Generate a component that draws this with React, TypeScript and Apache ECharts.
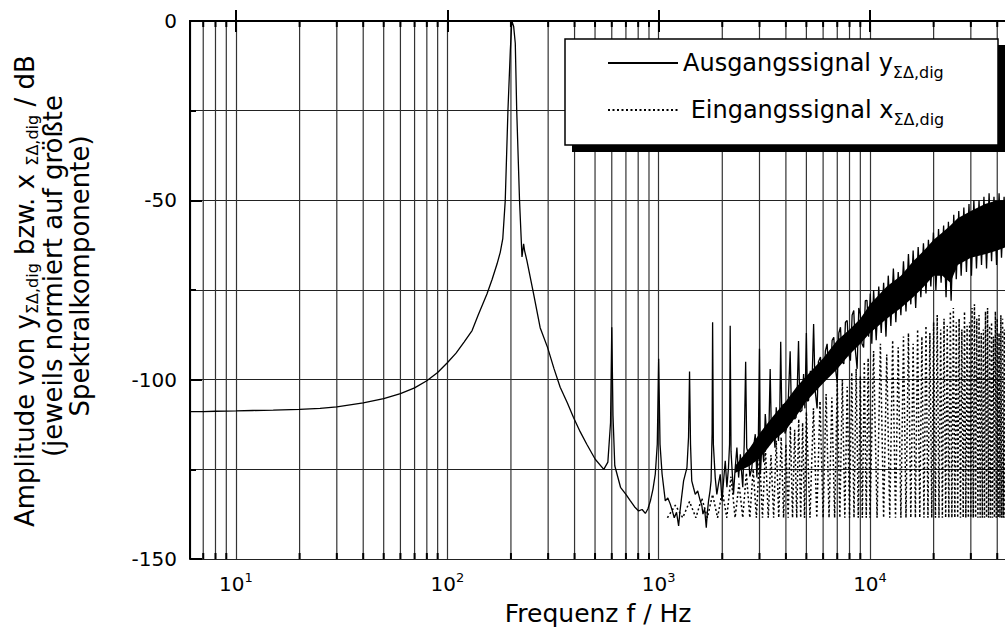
import { useEffect, useRef } from 'react';
import * as echarts from 'echarts';

const FONT = 'DejaVu Sans';
const X_MIN = 6.06;
const X_MAX = 44100;
const Y_MIN = -150;
const Y_MAX = 0;

// Output signal: smooth low-frequency part, main peak and harmonics (Hz, dB)
const outLowFreq = [6.06, 7, 8, 10, 12, 15, 20, 25, 30, 40, 50, 60, 70, 80, 90, 100, 110, 120, 131, 140, 154, 163, 172, 178, 183, 188, 193.6, 198.7, 202, 206, 209.7, 213, 219.6, 225.6, 229.6, 232, 238, 256, 275, 298, 320, 342, 370, 395, 425, 457, 501, 550, 575, 592, 600, 608, 620, 660, 700, 735, 770, 804, 835, 865, 890, 914, 940, 964, 985, 1000, 1015, 1038, 1075, 1105, 1135, 1160, 1185, 1215, 1243, 1260, 1278, 1312, 1361, 1385, 1400, 1415, 1434, 1460, 1490, 1530, 1573, 1600, 1620, 1650, 1680, 1700, 1722, 1750, 1770, 1790, 1800];
const outLowDb = [-108.9, -108.9, -108.8, -108.7, -108.6, -108.5, -108.3, -108.0, -107.6, -106.5, -105.3, -103.9, -102.3, -100.3, -98.0, -95.3, -92.6, -89.5, -86.3, -82.0, -76.1, -72.0, -67.7, -64.5, -60.7, -50.0, -24.9, -8.1, 0, -1.5, -6.2, -24.9, -50, -65.8, -62.1, -64, -66.8, -76.1, -85.5, -91, -97, -102.1, -106.5, -110.5, -114.5, -118, -122.2, -125, -123, -112, -85.4, -110, -124, -130, -132, -133.8, -135.5, -136.6, -136.2, -137.3, -136, -133.8, -130.5, -126.3, -118, -94.2, -118, -126.3, -133.8, -133, -134.7, -136.5, -138.5, -137, -140.8, -137, -133.8, -128.2, -124.5, -116, -97.7, -118, -128.2, -130, -132, -131, -133.8, -135, -137.5, -136, -141.3, -137, -133.8, -131, -128.2, -115, -84];

// Output signal: noise region (Hz, dB)
const outNoiseFreq = [1815, 1852, 1885, 1920, 1956, 1994, 2030, 2066, 2103, 2140, 2165, 2180, 2200, 2260, 2300, 2345, 2390, 2435, 2470, 2500, 2540, 2580, 2610, 2660, 2700, 2760, 2810, 2865, 2915, 2960, 3000, 3030, 3084, 3140, 3195, 3275, 3330, 3370, 3420, 3495, 3550, 3600, 3690, 3740, 3780, 3830, 3890, 3960, 4040, 4110, 4190, 4260, 4340, 4400, 4470, 4530, 4590, 4660, 4760, 4850, 4920, 5000, 5060, 5120, 5220, 5300, 5410, 5500, 5620, 5700, 5830, 5940, 6050, 6150, 6270, 6380, 6500, 6620, 6740, 6870, 7000, 7120, 7250, 7380, 7520, 7650, 7800, 7940, 8080, 8230, 8380, 8530, 8690, 8850, 9000, 9160, 9330, 9500, 9680, 9850, 10030, 10200, 10400, 10700, 11000, 11300, 11600, 11900, 12200, 12550, 12900, 13250, 13600, 14000, 14400, 14800, 15200, 15600, 16000, 16450, 16900, 17400, 17900, 18400, 18900, 19400, 19950, 20500, 21100, 21700, 22300, 22900, 23500, 24200, 24900, 25600, 26300, 27000, 27800, 28600, 29400, 30200, 31000, 31900, 32800, 33700, 34600, 35600, 36600, 37600, 38600, 39700, 40800, 41900, 43100, 44100];
const outNoiseDb = [-118, -127.3, -132, -129, -126.4, -133.8, -128, -122.6, -130, -124.5, -118, -85, -120, -132, -125, -118.9, -127.3, -120.8, -126, -130, -118, -95, -119, -120.8, -127, -124.5, -119, -115.2, -127.3, -118, -91.4, -126.4, -117.1, -123, -109.6, -118.9, -112, -97, -117, -113.3, -119, -107.7, -117.1, -110, -89.4, -112, -106.8, -115, -113.3, -105, -92.1, -112, -104, -111, -110.5, -102, -89.2, -109, -108.6, -98.4, -108, -87, -106, -105.8, -97.5, -104, -84.5, -103, -108, -95, -93.7, -101, -100.3, -92, -90, -99, -98.4, -89, -88.2, -97, -101, -87, -85.4, -95, -95.6, -84, -83.5, -93, -94.7, -82, -80.7, -92, -97, -80, -81.7, -90, -91, -78, -77.9, -88, -76, -90, -75, -89, -74, -87, -73, -88, -71, -85, -69, -84, -70, -82, -67, -81, -65, -79, -64, -80, -63, -77, -62, -76, -61, -74, -59, -75, -58, -73, -57, -77, -56, -78, -54, -72, -53, -71, -52, -70, -51, -71, -50, -69, -50, -68, -49, -69, -48, -67, -49, -68, -48, -66, -49, -62];

// Dense core of the output noise band (Hz, upper dB, lower dB)
const coreFreq = [2300, 2700, 3000, 3500, 4000, 4500, 5000, 6000, 7000, 8000, 9000, 10000, 12000, 14000, 16000, 18000, 20000, 22000, 24000, 26000, 30000, 35000, 40000, 44100];
const coreTop = [-124, -119, -115, -110, -106, -102, -99, -94, -89, -86, -83, -79, -74, -71, -67, -64, -61, -59, -57, -55, -53, -51, -50, -50];
const coreBottom = [-126, -124, -122, -117, -114, -110, -106, -101, -97, -93, -90, -87, -83, -80, -77, -74, -71, -71, -73, -68, -66, -65, -64, -63];

// Input signal: spectral lines above the -138.5 dB floor (Hz, dB)
const inFreq = [1100, 1200, 1300, 1400, 1500, 1600, 1700, 1800, 1900, 2000, 2100, 2200, 2300, 2400, 2500, 2600, 2700, 2800, 2900, 3000, 3100, 3200, 3300, 3400, 3500, 3600, 3700, 3800, 3900, 4000, 4100, 4200, 4300, 4400, 4500, 4600, 4700, 4800, 4900, 5000, 5200, 5400, 5600, 5800, 6000, 6200, 6400, 6600, 6800, 7000, 7200, 7400, 7600, 7800, 8000, 8200, 8400, 8600, 8800, 9000, 9200, 9400, 9600, 9800, 10000, 10400, 10800, 11200, 11600, 12000, 12400, 12800, 13200, 13600, 14000, 14400, 14800, 15200, 15600, 16000, 16400, 16800, 17200, 17600, 18000, 18400, 18800, 19200, 19600, 20000, 20400, 20800, 21200, 21600, 22000, 22400, 22800, 23200, 23600, 24000, 24400, 24800, 25200, 25600, 26000, 26400, 26800, 27200, 27600, 28000, 28400, 28800, 29200, 29600, 30000, 30400, 30800, 31200, 31600, 32000, 32400, 32800, 33200, 33600, 34000, 34400, 34800, 35200, 35600, 36000, 36400, 36800, 37200, 37600, 38000, 38400, 38800, 39200, 39600, 40000, 40400, 40800, 41200, 41600, 42000, 42400, 42800, 43200, 43600, 44000];
const inDb = [-138.5, -135, -138.5, -134, -138.5, -133, -138.5, -132, -138.5, -131, -138.5, -127, -138.5, -129, -138.5, -126, -138.5, -125, -138.5, -121, -138.5, -119, -138.5, -121, -138.5, -117, -138.5, -116, -138.5, -118, -138.5, -113, -138.5, -114, -138.5, -111, -138.5, -112, -138.5, -109, -138.5, -108, -138.5, -106, -138.5, -104, -138.5, -105, -138.5, -101, -138.5, -100, -138.5, -102, -138.5, -98, -138.5, -97, -138.5, -99, -138.5, -95, -138.5, -94, -138.5, -92, -138.5, -90, -138.5, -93, -138.5, -89, -138.5, -91, -138.5, -88, -138.5, -87, -138.5, -90, -138.5, -86, -138.5, -88, -138.5, -85, -138.5, -87, -138.5, -84, -138.5, -82, -138.5, -86, -138.5, -83, -138.5, -85, -138.5, -81, -138.5, -80, -138.5, -84, -138.5, -83, -138.5, -86, -138.5, -81, -138.5, -85, -138.5, -84, -138.5, -80, -138.5, -79, -138.5, -83, -138.5, -82, -138.5, -87, -138.5, -86, -138.5, -81, -138.5, -80, -138.5, -85, -138.5, -84, -138.5, -88, -138.5, -81, -138.5, -83, -138.5, -87, -138.5, -82, -138.5, -83, -138.5, -86, -138.5, -85];

// Minor (2..9 x decade) grid lines
const minorGridFreq = [7, 8, 9, 20, 30, 40, 50, 60, 70, 80, 90, 200, 300, 400, 500, 600, 700, 800, 900, 2000, 3000, 4000, 5000, 6000, 7000, 8000, 9000, 20000, 30000, 40000];

const seriesNames = ['Ausgangssignal', 'Eingangssignal'];
const yTitleLines = ['Amplitude von y{sub|ΣΔ,dig} bzw. x {sub|ΣΔ,dig} / dB', '(jeweils normiert auf größte', 'Spektralkomponente)'];

export default function App() {
  const ref = useRef<HTMLDivElement>(null);

  useEffect(() => {
    if (!ref.current) return;
    const chart = echarts.init(ref.current, null, { renderer: 'svg' });

    const outData = outLowFreq.map((f, i) => [f, outLowDb[i]]).concat(outNoiseFreq.map((f, i) => [f, outNoiseDb[i]]));
    const inData = inFreq.map((f, i) => [f, inDb[i]]);

    const isPow10 = (v: number) => {
      const l = Math.log10(v);
      return Math.abs(l - Math.round(l)) < 1e-6;
    };

    const titleStyle = { fontFamily: FONT, fontSize: 26, fill: '#000', verticalAlign: 'middle' };

    const option: any = {
      animation: false,
      backgroundColor: '#fff',
      grid: { left: 190, top: 21, width: 816.2, height: 538 },
      xAxis: [
        {
          type: 'log',
          logBase: 10,
          min: X_MIN,
          max: X_MAX,
          position: 'bottom',
          axisLine: { show: true, lineStyle: { color: '#000', width: 2 } },
          axisTick: { show: true, inside: true, length: 11, lineStyle: { color: '#000', width: 2 } },
          axisLabel: {
            margin: 12,
            showMinLabel: false,
            showMaxLabel: false,
            formatter: (v: number) => (isPow10(v) ? `{b|10}{s|${Math.round(Math.log10(v))}}` : ''),
            rich: {
              b: { fontFamily: FONT, fontSize: 20, color: '#000', lineHeight: 26 },
              s: { fontFamily: FONT, fontSize: 13, color: '#000', lineHeight: 13, verticalAlign: 'top' },
            },
          },
          splitLine: { show: true, lineStyle: { color: '#333', width: 1.2 } },
          name: 'Frequenz f / Hz',
          nameLocation: 'middle',
          nameGap: 42,
          nameTextStyle: { fontFamily: FONT, fontSize: 25, color: '#000' },
        },
        {
          type: 'log',
          logBase: 10,
          min: X_MIN,
          max: X_MAX,
          position: 'top',
          axisLine: { show: true, lineStyle: { color: '#000', width: 2 } },
          axisTick: { show: true, inside: true, length: 11, lineStyle: { color: '#000', width: 2 } },
          axisLabel: { show: false },
          splitLine: { show: false },
        },
      ],
      yAxis: [
        {
          type: 'value',
          min: Y_MIN,
          max: Y_MAX,
          interval: 50,
          axisLine: { show: true, lineStyle: { color: '#000', width: 2 } },
          axisTick: { show: true, inside: true, length: 12, lineStyle: { color: '#000', width: 2 } },
          minorTick: { show: true, splitNumber: 2, length: 6, lineStyle: { color: '#000', width: 2 } },
          minorSplitLine: { show: true, lineStyle: { color: '#222', width: 1 } },
          splitLine: { show: true, lineStyle: { color: '#222', width: 1 } },
          axisLabel: { fontFamily: FONT, fontSize: 20, color: '#000', margin: 13 },
        },
      ],
      legend: {
        orient: 'vertical',
        left: 607,
        top: 46,
        padding: 0,
        itemGap: 13,
        itemWidth: 70,
        itemHeight: 14,
        selectedMode: false,
        data: seriesNames,
        itemStyle: { opacity: 0 },
        formatter: (name: string) =>
          name === 'Ausgangssignal' ? 'Ausgangssignal y{sub|ΣΔ,dig}' : ' Eingangssignal x{sub|ΣΔ,dig}',
        textStyle: {
          fontFamily: FONT,
          fontSize: 24,
          color: '#000',
          lineHeight: 34,
          rich: { sub: { fontFamily: FONT, fontSize: 16, color: '#000', lineHeight: 12, verticalAlign: 'bottom' } },
        },
        z: 6,
      },
      graphic: [
        { type: 'rect', z: 4, shape: { x: 572, y: 45, width: 433, height: 107 }, style: { fill: '#000' } },
        { type: 'rect', z: 4, shape: { x: 565, y: 39, width: 433, height: 106 }, style: { fill: '#fff', stroke: '#000', lineWidth: 1.5 } },
        {
          type: 'text',
          z: 10,
          x: 25,
          y: 527,
          rotation: Math.PI / 2,
          style: {
            ...titleStyle,
            text: yTitleLines[0],
            align: 'left',
            lineHeight: 30,
            rich: { sub: { fontFamily: FONT, fontSize: 16, fill: '#000', lineHeight: 14, verticalAlign: 'bottom' } },
          },
        },
        { type: 'text', z: 10, x: 53, y: 276, rotation: Math.PI / 2, style: { ...titleStyle, text: yTitleLines[1], align: 'center' } },
        { type: 'text', z: 10, x: 80, y: 276, rotation: Math.PI / 2, style: { ...titleStyle, text: yTitleLines[2], align: 'center' } },
      ],
      series: [
        {
          type: 'custom',
          name: 'minorGrid',
          silent: true,
          z: 1,
          data: minorGridFreq.map((f) => [f, Y_MIN]),
          encode: { x: 0, y: 1 },
          renderItem: (params: any, api: any) => {
            const f = api.value(0);
            const p0 = api.coord([f, Y_MIN]);
            const p1 = api.coord([f, Y_MAX]);
            return {
              type: 'group',
              children: [
                { type: 'line', shape: { x1: p0[0], y1: p0[1], x2: p1[0], y2: p1[1] }, style: { stroke: '#333', lineWidth: 1.2 } },
                { type: 'line', shape: { x1: p0[0], y1: p0[1], x2: p0[0], y2: p0[1] - 6 }, style: { stroke: '#000', lineWidth: 2 } },
                { type: 'line', shape: { x1: p1[0], y1: p1[1], x2: p1[0], y2: p1[1] + 6 }, style: { stroke: '#000', lineWidth: 2 } },
              ],
            };
          },
        },
        {
          type: 'line',
          name: 'Eingangssignal',
          data: inData,
          symbol: 'none',
          showSymbol: false,
          clip: true,
          z: 2,
          lineStyle: { color: '#000', width: 1.5, type: [2, 2.5] },
          itemStyle: { color: '#000' },
        },
        {
          type: 'custom',
          name: 'core',
          silent: true,
          z: 2,
          clip: true,
          data: [[coreFreq[0], coreTop[0]]],
          encode: { x: 0, y: 1 },
          renderItem: (params: any, api: any) => {
            const top = coreFreq.map((f, i) => api.coord([f, coreTop[i]]));
            const bottom = coreFreq.map((f, i) => api.coord([f, coreBottom[i]])).reverse();
            return { type: 'polygon', shape: { points: top.concat(bottom) }, style: { fill: '#000' } };
          },
        },
        {
          type: 'line',
          name: 'Ausgangssignal',
          data: outData,
          symbol: 'none',
          showSymbol: false,
          clip: true,
          z: 3,
          lineStyle: { color: '#000', width: 1.3 },
          itemStyle: { color: '#000' },
        },
      ],
    };

    chart.setOption(option);
    return () => chart.dispose();
  }, []);

  return (
    <div style={{ position: 'fixed', left: 0, top: 0, width: 1005, height: 640, overflow: 'hidden', background: '#fff' }}>
      <div ref={ref} style={{ width: 1012, height: 640 }} />
    </div>
  );
}
